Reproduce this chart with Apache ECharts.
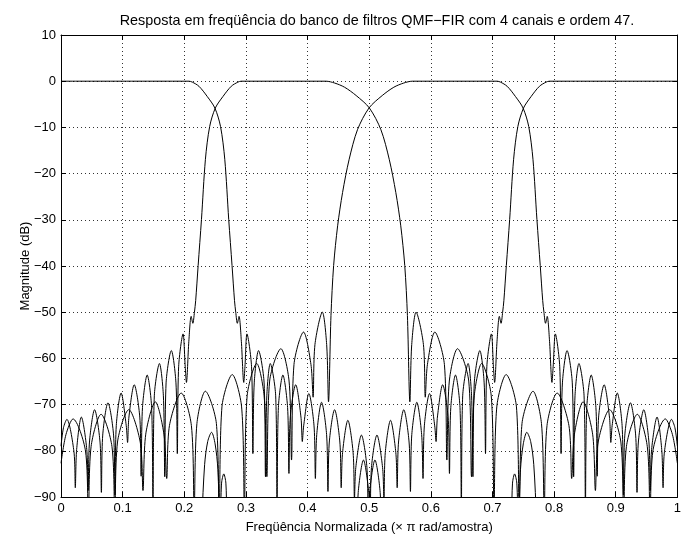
<!DOCTYPE html>
<html>
<head>
<meta charset="utf-8">
<script src="https://cdn.jsdelivr.net/npm/echarts@6/dist/echarts.min.js"></script>
<style>
  html, body { margin: 0; padding: 0; background: #fff; }
  #chart { width: 684px; height: 539px; }
</style>
</head>
<body>
<div id="chart"></div>
<script>
// Magnitude responses (dB) of the four QMF-FIR analysis filters, as [frequency (x pi rad/sample), dB] pairs.
// Points below -90 dB fall outside the plot and are clipped by the axes.

// H0: low-pass channel
const h0 = [
  [0, 0], [0.2077, 0], [0.213, -0.2], [0.2238, -1.1], [0.2372, -3.3], [0.2496, -5.8], [0.2588, -9.8],
  [0.2657, -16.9], [0.2721, -29.9], [0.2775, -39.9], [0.2815, -47.5], [0.2835, -50], [0.2861, -52.4],
  [0.2888, -50.9], [0.2926, -56.3], [0.2965, -65.2],
  [0.2985, -61.7], [0.3017, -54.7], [0.3091, -61.7], [0.3113, -80.6],
  [0.3135, -65.3], [0.3205, -58.3], [0.3295, -65.3], [0.3317, -85.6],
  [0.3339, -68.1], [0.3395, -61.1], [0.3483, -68.1], [0.3505, -93],
  [0.3527, -70.6], [0.3600, -63.6], [0.3676, -70.6], [0.3698, -84.9],
  [0.3720, -72.7], [0.3808, -65.7], [0.3893, -72.7], [0.3915, -78],
  [0.3937, -74.6], [0.4021, -67.6], [0.4105, -74.6], [0.4127, -86],
  [0.4149, -76.5], [0.4227, -69.5], [0.4309, -76.5], [0.4331, -88.8],
  [0.4353, -78.1], [0.4439, -71.1], [0.4524, -78.1], [0.4546, -88],
  [0.4568, -80.4], [0.4654, -73.4], [0.4739, -80.4], [0.4761, -90.5],
  [0.4783, -83.6], [0.4874, -76.6], [0.4963, -83.6], [0.4985, -96],
  [0.5007, -89], [0.5093, -82], [0.5178, -89], [0.5200, -100],
  [0.6000, -120],
  [0.7285, -100], [0.7325, -87], [0.7359, -85], [0.7395, -87], [0.7420, -97],
  [0.7455, -84], [0.7500, -78.5], [0.7557, -76], [0.7620, -78], [0.7670, -83], [0.7715, -95],
  [0.7760, -110], [1, -120]
];

// H1: first band-pass channel
const h1 = [
  [0, -79], [0.0040, -75], [0.0095, -73.2], [0.0210, -80.2], [0.0232, -88],
  [0.0254, -79.7], [0.0330, -72.7], [0.0418, -79.7], [0.0440, -88.6],
  [0.0462, -78.1], [0.0545, -71.1], [0.0633, -78.1], [0.0655, -89],
  [0.0677, -76.6], [0.0762, -69.6], [0.0853, -76.6], [0.0875, -89.6],
  [0.0897, -74.5], [0.0975, -67.5], [0.1058, -74.5], [0.1080, -78.2],
  [0.1102, -72.7], [0.1188, -65.7], [0.1278, -72.7], [0.1300, -85.5],
  [0.1322, -70.6], [0.1398, -63.6], [0.1470, -70.6], [0.1492, -93],
  [0.1514, -68.1], [0.1597, -61.1], [0.1661, -68.1], [0.1683, -85.6],
  [0.1705, -65.3], [0.1790, -58.3], [0.1865, -65.3], [0.1887, -80.6],
  [0.1909, -61.7], [0.1980, -54.7], [0.2015, -61.7], [0.2035, -65.2],
  [0.2074, -56.3], [0.2112, -50.9], [0.2139, -52.4], [0.2165, -50], [0.2185, -47.5],
  [0.2225, -39.9], [0.2279, -29.9], [0.2343, -16.9], [0.2412, -9.8], [0.2504, -5.8],
  [0.2628, -3.3], [0.2762, -1.1], [0.2870, -0.2], [0.2923, 0],
  [0.4300, 0], [0.4440, -0.4], [0.4600, -1.3], [0.4788, -3.1], [0.5003, -5.8], [0.5190, -10.5],
  [0.5325, -16.9], [0.5432, -24.1], [0.5512, -31.3], [0.5577, -39.9], [0.5620, -50.7], [0.5660, -69.4],
  [0.5690, -57], [0.5760, -50], [0.5880, -57], [0.5910, -68.4],
  [0.5945, -61.3], [0.6065, -54.3], [0.6220, -61.3], [0.6260, -82],
  [0.6300, -64.9], [0.6433, -57.9], [0.6615, -64.9], [0.6660, -85.6],
  [0.6705, -68.1], [0.6825, -61.1], [0.6980, -68.1], [0.7025, -93],
  [0.7070, -70.5], [0.7222, -63.5], [0.7389, -70.5], [0.7434, -96],
  [0.7479, -74.1], [0.7658, -67.1], [0.7795, -74.1], [0.7840, -93],
  [0.7885, -74.5], [0.8050, -67.5], [0.8240, -74.5], [0.8285, -86],
  [0.8330, -76.4], [0.8470, -69.4], [0.8625, -76.4], [0.8670, -88.6],
  [0.8715, -78.1], [0.8900, -71.1], [0.9083, -78.1], [0.9128, -95],
  [0.9173, -79.1], [0.9350, -72.1], [0.9512, -79.1], [0.9557, -95],
  [0.9602, -80.1], [0.9805, -73.1], [0.9920, -76.5], [1, -82.7]
];

// H2: second band-pass channel
const h2 = [
  [0, -82.7], [0.0080, -76.5], [0.0195, -73.1], [0.0398, -80.1], [0.0443, -95],
  [0.0488, -79.1], [0.0650, -72.1], [0.0827, -79.1], [0.0872, -95],
  [0.0917, -78.1], [0.1100, -71.1], [0.1285, -78.1], [0.1330, -88.6],
  [0.1375, -76.4], [0.1530, -69.4], [0.1670, -76.4], [0.1715, -86],
  [0.1760, -74.5], [0.1950, -67.5], [0.2115, -74.5], [0.2160, -93],
  [0.2205, -74.1], [0.2342, -67.1], [0.2521, -74.1], [0.2566, -96],
  [0.2611, -70.5], [0.2778, -63.5], [0.2930, -70.5], [0.2975, -93],
  [0.3020, -68.1], [0.3175, -61.1], [0.3295, -68.1], [0.3340, -85.6],
  [0.3385, -64.9], [0.3567, -57.9], [0.3700, -64.9], [0.3740, -82],
  [0.3780, -61.3], [0.3935, -54.3], [0.4055, -61.3], [0.4090, -68.4],
  [0.4120, -57], [0.4240, -50], [0.4310, -57], [0.4340, -69.4],
  [0.4380, -50.7], [0.4423, -39.9], [0.4488, -31.3], [0.4568, -24.1], [0.4675, -16.9], [0.4810, -10.5],
  [0.4997, -5.8], [0.5212, -3.1], [0.5400, -1.3], [0.5560, -0.4], [0.5700, 0],
  [0.7077, 0], [0.7130, -0.2], [0.7238, -1.1], [0.7372, -3.3], [0.7496, -5.8], [0.7588, -9.8],
  [0.7657, -16.9], [0.7721, -29.9], [0.7775, -39.9], [0.7815, -47.5], [0.7835, -50], [0.7861, -52.4],
  [0.7888, -50.9], [0.7926, -56.3], [0.7965, -65.2],
  [0.7985, -61.7], [0.8020, -54.7], [0.8091, -61.7], [0.8113, -80.6],
  [0.8135, -65.3], [0.8210, -58.3], [0.8295, -65.3], [0.8317, -85.6],
  [0.8339, -68.1], [0.8403, -61.1], [0.8486, -68.1], [0.8508, -93],
  [0.8530, -70.6], [0.8602, -63.6], [0.8678, -70.6], [0.8700, -85.5],
  [0.8722, -72.7], [0.8812, -65.7], [0.8898, -72.7], [0.8920, -78.2],
  [0.8942, -74.5], [0.9025, -67.5], [0.9103, -74.5], [0.9125, -89.6],
  [0.9147, -76.6], [0.9238, -69.6], [0.9323, -76.6], [0.9345, -89],
  [0.9367, -78.1], [0.9455, -71.1], [0.9538, -78.1], [0.9560, -88.6],
  [0.9582, -79.7], [0.9670, -72.7], [0.9746, -79.7], [0.9768, -88],
  [0.9790, -80.2], [0.9905, -73.2], [0.9960, -75], [1, -79]
];

// H3: high-pass channel
const h3 = [
  [0, -120], [0.2240, -110], [0.2285, -95], [0.2330, -83], [0.2380, -78], [0.2443, -76],
  [0.2500, -78.5], [0.2545, -84], [0.2580, -97], [0.2605, -87], [0.2641, -85], [0.2675, -87],
  [0.2715, -100], [0.4000, -120],
  [0.4800, -100], [0.4822, -89], [0.4907, -82], [0.4993, -89], [0.5015, -96],
  [0.5037, -83.6], [0.5126, -76.6], [0.5217, -83.6], [0.5239, -90.5],
  [0.5261, -80.4], [0.5346, -73.4], [0.5432, -80.4], [0.5454, -88],
  [0.5476, -78.1], [0.5561, -71.1], [0.5647, -78.1], [0.5669, -88.8],
  [0.5691, -76.5], [0.5773, -69.5], [0.5851, -76.5], [0.5873, -86],
  [0.5895, -74.6], [0.5979, -67.6], [0.6063, -74.6], [0.6085, -78],
  [0.6107, -72.7], [0.6192, -65.7], [0.6280, -72.7], [0.6302, -84.9],
  [0.6324, -70.6], [0.6400, -63.6], [0.6473, -70.6], [0.6495, -93],
  [0.6517, -68.1], [0.6605, -61.1], [0.6661, -68.1], [0.6683, -85.6],
  [0.6705, -65.3], [0.6795, -58.3], [0.6865, -65.3], [0.6887, -80.6],
  [0.6909, -61.7], [0.6983, -54.7], [0.7015, -61.7], [0.7035, -65.2],
  [0.7074, -56.3], [0.7112, -50.9], [0.7139, -52.4], [0.7165, -50], [0.7185, -47.5],
  [0.7225, -39.9], [0.7279, -29.9], [0.7343, -16.9], [0.7412, -9.8], [0.7504, -5.8],
  [0.7628, -3.3], [0.7762, -1.1], [0.7870, -0.2], [0.7923, 0], [1, 0]
];

// Axis ticks and texts
const xTicks = [0, 0.1, 0.2, 0.3, 0.4, 0.5, 0.6, 0.7, 0.8, 0.9, 1];
const yTicks = [10, 0, -10, -20, -30, -40, -50, -60, -70, -80, -90];
const titleText = 'Resposta em freqüência do banco de filtros QMF\u2212FIR com 4 canais e ordem 47.';
const xName = 'Freqüência Normalizada (\u00d7 \u03c0 rad/amostra)';
const yName = 'Magnitude (dB)';

const FONT = '"Liberation Sans", Arial, Helvetica, sans-serif';
const chart = echarts.init(document.getElementById('chart'), null, { renderer: 'canvas' });

const fmtX = v => String(parseFloat(v.toFixed(2)));
const fmtY = v => String(Math.round(v)).replace('-', '\u2212');

const frameAxis = {
  axisLine: { show: true, onZero: false, lineStyle: { color: '#000', width: 1 } },
  axisTick: { show: true, inside: true, length: 5, lineStyle: { color: '#000', width: 1 } }
};

const gridDots = { show: true, lineStyle: { type: [1, 3], color: '#333', width: 1 } };

const option = {
  animation: false,
  backgroundColor: '#fff',
  textStyle: { fontFamily: FONT },
  title: {
    text: titleText,
    left: 372, top: 9, textAlign: 'center',
    textStyle: { fontSize: 14.4, fontWeight: 'normal', color: '#000', fontFamily: FONT }
  },
  grid: { left: 61, top: 35, width: 621, height: 464 },
  xAxis: [
    Object.assign({
      type: 'value', position: 'bottom',
      min: xTicks[0], max: xTicks[xTicks.length - 1], interval: 0.1,
      name: xName, nameLocation: 'middle', nameGap: 24, nameMoveOverlap: false,
      nameTextStyle: { fontSize: 13, color: '#000', fontFamily: FONT },
      axisLabel: { show: true, margin: 5, fontSize: 13, color: '#000', fontFamily: FONT, formatter: fmtX },
      splitLine: gridDots
    }, frameAxis),
    Object.assign({
      type: 'value', position: 'top',
      min: xTicks[0], max: xTicks[xTicks.length - 1], interval: 0.1,
      axisLabel: { show: false }, splitLine: { show: false }
    }, frameAxis)
  ],
  yAxis: [
    Object.assign({
      type: 'value', position: 'left',
      min: yTicks[yTicks.length - 1], max: yTicks[0], interval: 10,
      name: yName, nameLocation: 'middle', nameGap: 29, nameRotate: 90, nameMoveOverlap: false,
      nameTextStyle: { fontSize: 13, color: '#000', fontFamily: FONT },
      axisLabel: { show: true, margin: 5, fontSize: 13, color: '#000', fontFamily: FONT, formatter: fmtY },
      splitLine: gridDots
    }, frameAxis),
    Object.assign({
      type: 'value', position: 'right',
      min: yTicks[yTicks.length - 1], max: yTicks[0], interval: 10,
      axisLabel: { show: false }, splitLine: { show: false }
    }, frameAxis)
  ],
  series: [h0, h1, h2, h3].map((d, i) => ({
    name: 'H' + i,
    type: 'line',
    xAxisIndex: 0, yAxisIndex: 0,
    data: d,
    showSymbol: false,
    smooth: 0.3,
    clip: true,
    silent: true,
    lineStyle: { color: '#000', width: 1 },
    z: 3
  }))
};

chart.setOption(option);
</script>
</body>
</html>
